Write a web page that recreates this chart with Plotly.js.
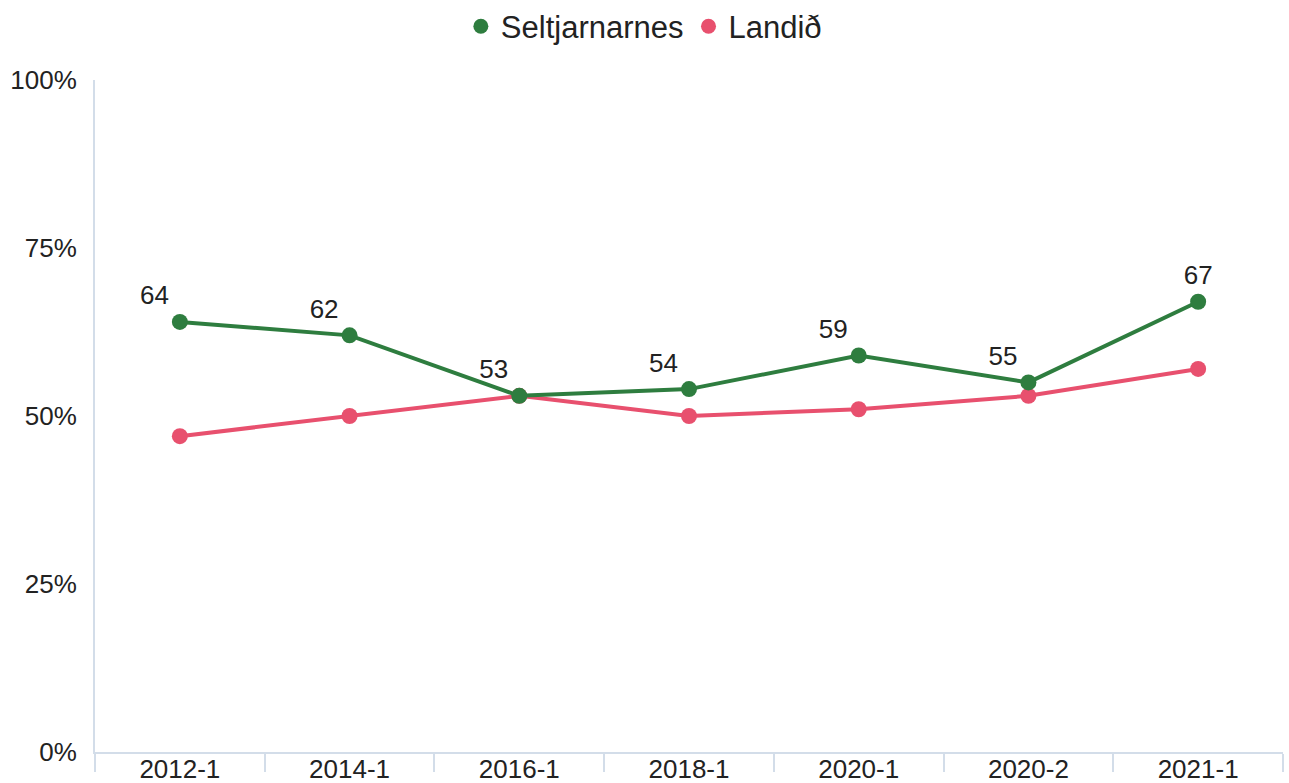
<!DOCTYPE html>
<html>
<head>
<meta charset="utf-8">
<script src="https://cdn.plot.ly/plotly-3.0.1.min.js"></script>
<style>html,body{margin:0;padding:0;background:#fff;}#chart{width:1289px;height:783px;}</style>
</head>
<body>
<div id="chart"></div>
<script>
const categories = ["2012-1", "2014-1", "2016-1", "2018-1", "2020-1", "2020-2", "2021-1"];
const seltjarnarnes = [64, 62, 53, 54, 59, 55, 67];
const landid = [47, 50, 53, 50, 51, 53, 57];
const seriesNames = ["Seltjarnarnes", "Landið"];
const yTicks = [0, 25, 50, 75, 100];
const yTickLabels = ["0%", "25%", "50%", "75%", "100%"];

const green = "#2e7d3f";
const pink = "#e8506e";
const font = "Liberation Sans, Arial, sans-serif";

const labelPos = ["top left", "top left", "top left", "top left", "top left", "top left", "top center"];

const traces = [
  {
    x: categories, y: landid, type: "scatter", mode: "lines+markers",
    name: seriesNames[1], showlegend: false,
    line: {color: pink, width: 4}, marker: {color: pink, size: 16},
    hoverinfo: "skip"
  },
  {
    x: categories, y: seltjarnarnes, type: "scatter", mode: "lines+markers+text",
    name: seriesNames[0], showlegend: false,
    text: seltjarnarnes.map(String), textposition: labelPos,
    textfont: {family: font, size: 26, color: "#222"},
    line: {color: green, width: 4}, marker: {color: green, size: 16},
    hoverinfo: "skip"
  },
  {
    x: [null], y: [null], type: "scatter", mode: "markers", name: seriesNames[0],
    marker: {color: green, size: 15}
  },
  {
    x: [null], y: [null], type: "scatter", mode: "markers", name: seriesNames[1],
    marker: {color: pink, size: 15}
  }
];

const layout = {
  width: 1289, height: 783,
  margin: {l: 95, r: 6, t: 80, b: 31, pad: 0},
  paper_bgcolor: "#fff", plot_bgcolor: "#fff",
  font: {family: font, color: "#222", size: 26},
  showlegend: true,
  legend: {
    orientation: "h", x: 0.462, xanchor: "center", y: 0.966, yanchor: "middle",
    yref: "container",
    font: {family: font, size: 31, color: "#222"},
    itemwidth: 30, tracegroupgap: 0
  },
  xaxis: {
    type: "category", range: [-0.5, 6.5], tickson: "boundaries",
    ticks: "outside", ticklen: 18, tickwidth: 2, tickcolor: "#d3dde9",
    showline: true, linecolor: "#d3dde9", linewidth: 2,
    showgrid: false, zeroline: false,
    ticklabelstandoff: -7,
    tickfont: {family: font, size: 26, color: "#222"},
    fixedrange: true
  },
  yaxis: {
    range: [0, 100], tickvals: yTicks, ticktext: yTickLabels,
    showline: true, linecolor: "#d3dde9", linewidth: 2,
    showgrid: false, zeroline: false, ticks: "",
    ticklabelstandoff: 11,
    tickfont: {family: font, size: 26, color: "#222"},
    fixedrange: true
  }
};

Plotly.newPlot("chart", traces, layout, {displayModeBar: false, staticPlot: true});
</script>
</body>
</html>
